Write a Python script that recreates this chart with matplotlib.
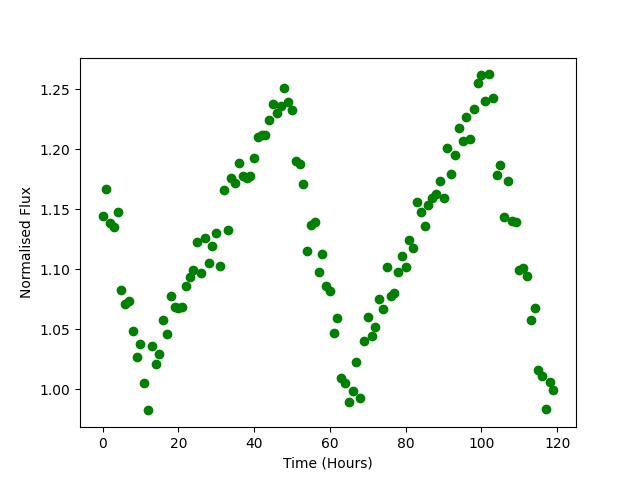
import matplotlib
matplotlib.use("Agg")
import matplotlib.pyplot as plt
import numpy as np

time_hours = list(range(120))
flux = [
    1.144, 1.1667, 1.138, 1.135, 1.1472, 1.0822, 1.0706, 1.0731, 1.0481, 1.0267,
    1.0372, 1.0047, 0.9822, 1.0356, 1.0206, 1.0289, 1.0575, 1.0461, 1.0772, 1.0686,
    1.0675, 1.0681, 1.0856, 1.0931, 1.0989, 1.1222, 1.0964, 1.1256, 1.1047, 1.1189,
    1.1297, 1.1022, 1.1656, 1.1322, 1.1756, 1.1714, 1.1881, 1.1772, 1.1756, 1.1772,
    1.1922, 1.2097, 1.2114, 1.2114, 1.2239, 1.2372, 1.2297, 1.2356, 1.2506, 1.2389,
    1.2322, 1.1897, 1.1872, 1.1706, 1.1147, 1.1364, 1.1389, 1.0972, 1.1122, 1.0856,
    1.0814, 1.0464, 1.0589, 1.0089, 1.0047, 0.9889, 0.9981, 1.0222, 0.9922, 1.0397,
    1.0597, 1.0439, 1.0514, 1.0747, 1.0664, 1.1014, 1.0772, 1.0797, 1.0972, 1.1106,
    1.1014, 1.1239, 1.1172, 1.1556, 1.1472, 1.1358, 1.1536, 1.1594, 1.1628, 1.1731,
    1.1589, 1.2006, 1.1789, 1.1947, 1.2172, 1.2064, 1.2269, 1.2081, 1.2331, 1.2547,
    1.2614, 1.2397, 1.2622, 1.2422, 1.1781, 1.1864, 1.1431, 1.1731, 1.1397, 1.1389,
    1.0989, 1.1006, 1.0939, 1.0572, 1.0672, 1.0156, 1.0106, 0.9831, 1.0056, 0.9989,
]

fig, ax = plt.subplots(figsize=(6.4, 4.8), dpi=100)
ax.plot(time_hours, flux, 'o', color='green')
ax.set_xlabel('Time (Hours)')
ax.set_ylabel('Normalised Flux')
fig.savefig('out.png')
